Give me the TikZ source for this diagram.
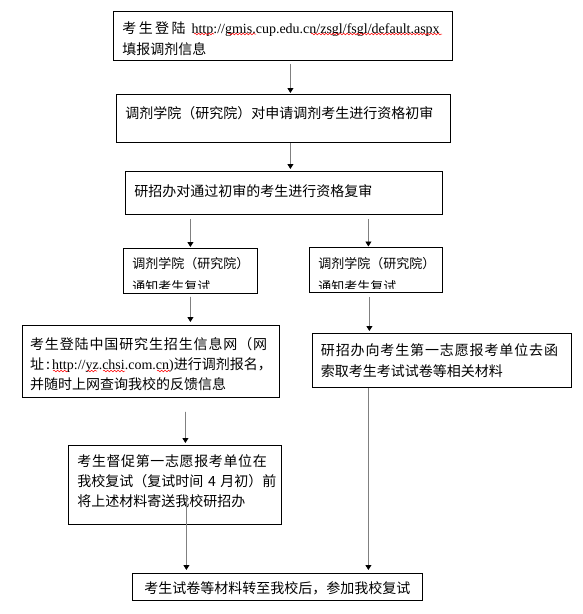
\documentclass[tikz,border=0pt]{standalone}
\usepackage{fontspec}
\setmainfont{Noto Sans CJK SC}
\newfontfamily\lat{Liberation Serif}
\usepackage{trimclip}
\usetikzlibrary{arrows.meta,decorations.pathmorphing}
\newcommand\cutline[1]{\clipbox{0pt 3pt 0pt 0pt}{\raisebox{0pt}[\height][0pt]{#1}}}
\begin{document}
\begin{tikzpicture}[x=1pt,y=-1pt,
  box/.style={draw=black, line width=0.8pt, rectangle, anchor=north west,
    inner xsep=9pt, inner ysep=0pt, align=left, text height=0pt, text depth=0pt,
    font=\fontsize{14}{20.5}\selectfont},
  smallbox/.style={box, font=\fontsize{13}{20}\selectfont},
  arr/.style={draw=gray, line width=0.8pt, -{Triangle[length=5pt,width=6pt,black]}},
  wavy/.style={draw=red, line width=0.5pt, decorate,
    decoration={snake, segment length=3.5pt, amplitude=0.8pt}}]
\useasboundingbox (0,0) rectangle (582,614);

\node[box, text width=321pt, minimum height=49pt, text depth=5.4pt, font=\fontsize{14}{21}\selectfont] (b1) at (113,11)
  {\mbox{考\hspace{2.4pt}生\hspace{2.4pt}登\hspace{2.4pt}陆\hspace{6pt}{\lat http://gmis.cup.edu.cn/zsgl/fsgl/default.aspx}}\\填报调剂信息};

\node[box, text width=316pt, minimum height=48pt, text depth=0.4pt] (b2) at (116,94)
  {调剂学院（研究院）对申请调剂考生进行资格初审};

\node[box, text width=299pt, minimum height=43pt, text height=6.6pt] (b3) at (125,171)
  {研招办对通过初审的考生进行资格复审};

\node[smallbox, text width=116pt, minimum height=45pt, text depth=4.2pt] (b4l) at (123,248)
  {调剂学院（研究院）\\\cutline{通知考生复试}};

\node[smallbox, text width=115pt, minimum height=45pt, text depth=2.6pt] (b4r) at (309,247)
  {调剂学院（研究院）\\\cutline{通知考生复试}};

\node[box, inner xsep=8pt, text width=241.3pt, minimum height=72pt, text depth=24.4pt, font=\fontsize{14}{20}\selectfont] (b5l) at (21.7,325)
  {{\addfontfeature{LetterSpace=6.25}考生登陆中国研究生招生信息网（网}\\址\makebox[8pt][c]{:}{\lat http://yz.chsi.com.cn)}进行调剂报名，\\并随时上网查询我校的反馈信息};

\node[box, text width=241.5pt, minimum height=54pt, text depth=10.4pt, font=\fontsize{14}{21}\selectfont] (b5r) at (311.5,333)
  {{\addfontfeature{LetterSpace=6.25}研招办向考生第一志愿报考单位去函}\\索取考生考试试卷等相关材料};

\node[box, text width=195pt, minimum height=79pt, text depth=36.4pt, font=\fontsize{14}{20}\selectfont] (b6) at (68,445)
  {{\addfontfeature{LetterSpace=4.4}考生督促第一志愿报考单位在}\\\mbox{我校复试（复试时间 4 月初）前}\\将上述材料寄送我校研招办};

\node[box, align=center, text width=272pt, minimum height=27pt, text height=12.6pt] (b7) at (132,573)
  {考生试卷等材料转至我校后，参加我校复试};

% spell-check squiggles
\draw[wavy] (194,34) -- (214,34);
\draw[wavy] (228,34) -- (256,34);
\draw[wavy] (311,34) -- (442,34);
\draw[wavy] (53,371) -- (68,371);
\draw[wavy] (87,371) -- (97,371);
\draw[wavy] (103,371) -- (125,371);
\draw[wavy] (157,371) -- (170,371);

% connectors
\draw[arr] ([xshift=7.5pt,yshift=-3pt]b1.south) -- ([xshift=7pt,yshift=1pt]b2.north);
\draw[arr] ([xshift=7pt]b2.south) -- ([xshift=6.5pt,yshift=2pt]b3.north);
\draw[arr] ([xshift=-93.5pt,yshift=-4pt]b3.south) -- ([yshift=1pt]b4l.north);
\draw[arr] ([xshift=84.5pt,yshift=-4pt]b3.south) -- ([xshift=-7.5pt,yshift=0.5pt]b4r.north);
\draw[arr] ([yshift=-3pt]b4l.south) -- ([xshift=39.65pt,yshift=3pt]b5l.north);
\draw[arr] ([xshift=-6.5pt,yshift=-4pt]b4r.south) -- ([xshift=-72.25pt,yshift=2pt]b5r.north);
\draw[arr] ([xshift=34.65pt,yshift=-14pt]b5l.south) -- ([xshift=10.5pt,yshift=2pt]b6.north);
\draw[arr] ([xshift=11.5pt,yshift=29pt]b6.south) -- ([xshift=-91pt,yshift=3pt]b7.north);
\draw[arr] ([xshift=-73.25pt]b5r.south) -- ([xshift=91pt,yshift=3pt]b7.north);
\end{tikzpicture}
\end{document}
